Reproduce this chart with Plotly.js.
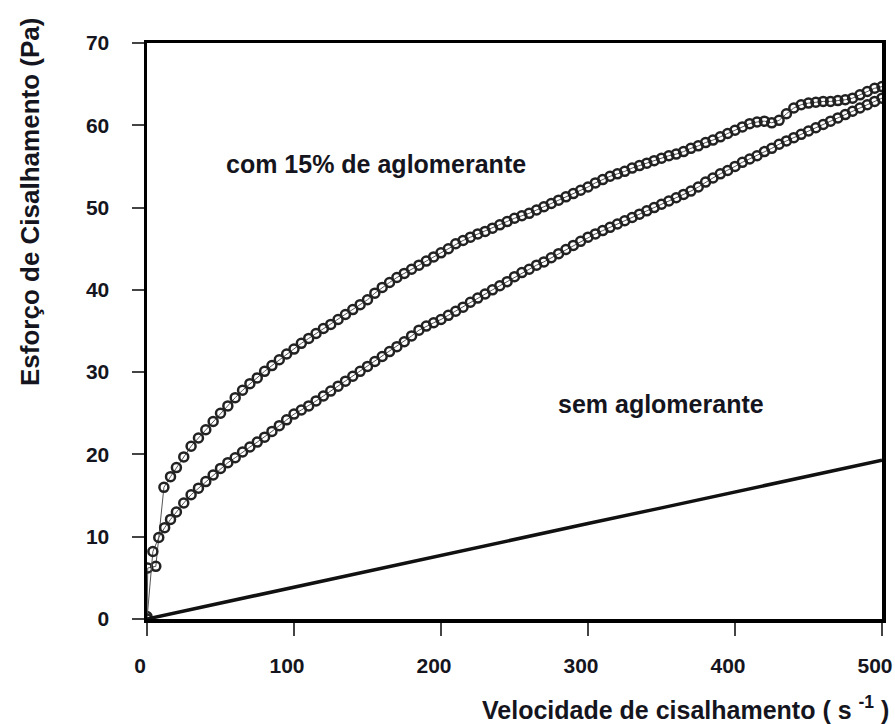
<!DOCTYPE html>
<html>
<head>
<meta charset="utf-8">
<script src="https://cdn.plot.ly/plotly-3.0.1.min.js"></script>
<style>html,body{margin:0;padding:0;background:#fff;}#chart{width:895px;height:724px;}</style>
</head>
<body>
<div id="chart"></div>
<script>
// Upper branch (com 15% de aglomerante)
const upperX = [0,0.5,6,11.5,16,20,25,30,35,40,45,50,55,60,65,70,75,80,85,90,95,100,105,110,115,120,125,130,135,140,145,150,155,160,165,170,175,180,185,190,195,200,205,210,215,220,225,230,235,240,245,250,255,260,265,270,275,280,285,290,295,300,305,310,315,320,325,330,335,340,345,350,355,360,365,370,375,380,385,390,395,400,405,410,415,420,425,430,435,440,445,450,455,460,465,470,475,480,485,490,495,500];
const upperY = [0.3,6.2,6.4,16.0,17.3,18.4,19.7,21.0,22.0,23.0,24.0,25.0,25.9,26.9,27.8,28.6,29.3,30.1,30.8,31.5,32.2,32.8,33.5,34.1,34.7,35.3,35.8,36.4,37.0,37.6,38.2,38.8,39.6,40.3,40.9,41.5,42.0,42.5,43.0,43.5,44.0,44.5,45.0,45.6,46.0,46.4,46.8,47.1,47.5,47.9,48.3,48.7,49.0,49.3,49.7,50.1,50.5,50.9,51.3,51.7,52.1,52.5,53.0,53.4,53.8,54.1,54.4,54.8,55.1,55.4,55.7,56.0,56.3,56.5,56.8,57.2,57.5,57.9,58.2,58.6,59.0,59.4,59.8,60.2,60.4,60.5,60.3,60.6,61.4,62.1,62.5,62.7,62.8,62.9,62.9,63.0,63.1,63.3,63.7,64.1,64.5,64.7];

// Lower branch (com 15% de aglomerante)
const lowerX = [0,4,8,12,16,20,25,30,35,40,45,50,55,60,65,70,75,80,85,90,95,100,105,110,115,120,125,130,135,140,145,150,155,160,165,170,175,180,185,190,195,200,205,210,215,220,225,230,235,240,245,250,255,260,265,270,275,280,285,290,295,300,305,310,315,320,325,330,335,340,345,350,355,360,365,370,375,380,385,390,395,400,405,410,415,420,425,430,435,440,445,450,455,460,465,470,475,480,485,490,495,500];
const lowerY = [0,8.2,9.9,11.1,12.1,13.0,14.1,15.1,15.9,16.7,17.5,18.3,19.0,19.6,20.3,20.9,21.5,22.1,22.8,23.5,24.2,24.9,25.4,25.9,26.5,27.1,27.7,28.3,28.9,29.5,30.1,30.7,31.3,31.9,32.5,33.1,33.7,34.4,35.1,35.6,36.0,36.4,36.9,37.4,37.9,38.5,39.0,39.5,40.0,40.5,41.0,41.6,42.1,42.5,43.0,43.4,43.9,44.4,44.9,45.4,45.9,46.4,46.8,47.2,47.6,48.0,48.4,48.8,49.2,49.6,50.0,50.4,50.8,51.2,51.6,52.0,52.5,53.1,53.6,54.1,54.5,55.0,55.5,55.9,56.3,56.8,57.2,57.7,58.1,58.5,58.9,59.3,59.7,60.1,60.5,60.9,61.3,61.7,62.1,62.5,62.9,63.3];

// Sem aglomerante
const semX = [0,50,100,150,200,250,300,350,400,450,500];
const semY = [0,1.95,3.9,5.8,7.7,9.65,11.6,13.5,15.4,17.4,19.3];

// Tick labels
const xTicks = [0,100,200,300,400,500];
const yTicks = [0,10,20,30,40,50,60,70];

const markerStyle = {symbol:'circle-open', size:9, color:'#222', line:{width:2.5, color:'#222'}};

const traces = [
  {x: upperX, y: upperY, mode:'lines+markers', line:{color:'#555', width:1}, marker: markerStyle, hoverinfo:'skip'},
  {x: lowerX, y: lowerY, mode:'lines+markers', line:{color:'#555', width:1}, marker: markerStyle, hoverinfo:'skip'},
  {x: semX, y: semY, mode:'lines', line:{color:'#111', width:3.5}, hoverinfo:'skip'}
];

const FAM = 'Liberation Sans, Arial, sans-serif';
const tickFont = {family:FAM, size:21, color:'#151520', weight:'bold'};
const W = 895, H = 724, L = 147, R = 13, T = 43, B = 105;
const pw = W - L - R, ph = H - T - B;
function px(x){ return (x - L) / pw; }
function py(y){ return (H - B - y) / ph; }

const layout = {
  width: W, height: H,
  margin: {l:L, r:R, t:T, b:B, pad:0},
  paper_bgcolor:'#fff', plot_bgcolor:'#fff',
  showlegend:false,
  xaxis: {
    range:[0,500], tickvals:xTicks, ticktext:xTicks.map(String),
    showgrid:false, zeroline:false,
    showline:true, linecolor:'#000', linewidth:3.5, mirror:true,
    ticks:'outside', ticklen:13, tickwidth:2, tickcolor:'#444',
    ticklabelstandoff:12, ticklabelshift:-7, ticklabeloverflow:'allow',
    tickfont: tickFont
  },
  yaxis: {
    range:[0,70], tickvals:yTicks, ticktext:yTicks.map(String),
    showgrid:false, zeroline:false,
    showline:true, linecolor:'#000', linewidth:3.5, mirror:true,
    ticks:'outside', ticklen:12, tickwidth:2, tickcolor:'#444',
    ticklabelstandoff:18, ticklabeloverflow:'allow',
    tickfont: tickFont
  },
  annotations: [
    {xref:'paper', yref:'paper', x:px(30), y:py(202), text:'Esforço de Cisalhamento (Pa)', textangle:-90,
     showarrow:false, xanchor:'center', yanchor:'middle',
     font:{family:FAM, size:26, color:'#151520', weight:'bold'}},
    {xref:'paper', yref:'paper', x:px(891), y:py(708), text:'Velocidade de cisalhamento ( s <sup>-1</sup> )',
     showarrow:false, xanchor:'right', yanchor:'middle',
     font:{family:FAM, size:25, color:'#151520', weight:'bold'}},
    {xref:'paper', yref:'paper', x:px(224), y:py(164), text:'com 15% de aglomerante',
     showarrow:false, xanchor:'left', yanchor:'middle',
     font:{family:FAM, size:25, color:'#151520', weight:'bold'}},
    {xref:'paper', yref:'paper', x:px(556), y:py(404), text:'sem aglomerante',
     showarrow:false, xanchor:'left', yanchor:'middle',
     font:{family:FAM, size:25, color:'#151520', weight:'bold'}}
  ]
};

Plotly.newPlot('chart', traces, layout, {displayModeBar:false, staticPlot:true});
</script>
</body>
</html>
